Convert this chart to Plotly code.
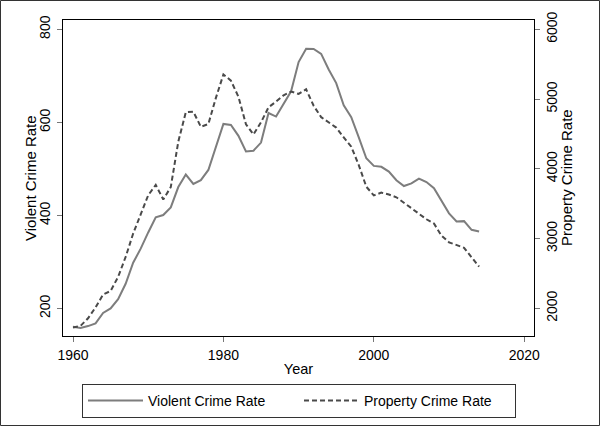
import plotly.graph_objects as go

years = list(range(1960, 2015))
violent_rate = [160.9, 158.1, 162.3, 168.2, 190.6, 200.2, 220.0, 253.2, 298.4, 328.7,
                363.5, 396.0, 401.0, 417.4, 461.1, 487.8, 467.8, 475.9, 497.8, 548.9,
                596.6, 594.3, 571.1, 537.7, 539.2, 556.6, 620.1, 612.5, 640.6, 666.9,
                729.6, 758.2, 757.7, 747.1, 713.6, 684.5, 636.6, 611.0, 567.6, 523.0,
                506.5, 504.5, 494.4, 475.8, 463.2, 469.0, 479.3, 471.8, 458.6, 431.9,
                404.5, 387.1, 387.8, 369.1, 365.5]
property_rate = [1726.3, 1747.9, 1857.5, 2012.1, 2197.5, 2248.8, 2450.9, 2736.5, 3071.8, 3351.3,
                 3621.0, 3768.8, 3560.4, 3737.0, 4389.3, 4810.7, 4819.5, 4601.7, 4642.5, 5016.6,
                 5353.3, 5263.8, 5032.5, 4637.4, 4492.1, 4666.4, 4881.8, 4963.0, 5054.0, 5107.1,
                 5073.1, 5140.2, 4903.7, 4740.0, 4660.2, 4590.5, 4451.0, 4316.3, 4052.5, 3743.6,
                 3618.3, 3658.1, 3630.6, 3591.2, 3514.1, 3431.5, 3346.6, 3276.4, 3214.6, 3041.3,
                 2945.9, 2905.4, 2868.0, 2730.7, 2596.1]

x_ticks = [1960, 1980, 2000, 2020]
left_ticks = [200, 400, 600, 800]
right_ticks = [2000, 3000, 4000, 5000, 6000]

FONT = "Liberation Sans, Arial, Helvetica, sans-serif"

fig = go.Figure()
fig.add_trace(go.Scatter(x=years, y=violent_rate, name="Violent Crime Rate",
                         mode="lines", line=dict(color="#7d7d7d", width=2), yaxis="y"))
fig.add_trace(go.Scatter(x=years, y=property_rate, name="Property Crime Rate",
                         mode="lines", line=dict(color="#4a4a4a", width=2, dash="5px,3px"), yaxis="y2"))

L, R, T, B = 63, 66, 20, 90
W = 600 - L - R
H = 426 - T - B

axis_common = dict(ticks="outside", ticklen=5, tickcolor="#777", tickwidth=1,
                   showgrid=False, zeroline=False, automargin=False,
                   tickfont=dict(size=14, color="black", family=FONT))

fig.update_layout(
    width=600, height=426,
    margin=dict(l=L, r=R, t=T, b=B, autoexpand=False),
    paper_bgcolor="white", plot_bgcolor="white",
    font=dict(family=FONT, size=14, color="black"),
    xaxis=dict(range=[1958.67, 2021.3], tickvals=x_ticks, ticklabelstandoff=1,
               title=dict(text="Year", standoff=2, font=dict(size=14.5)),
               showline=True, linecolor="black", linewidth=1, mirror=True, **axis_common),
    yaxis=dict(range=[141, 820], tickvals=left_ticks, tickangle=-90, ticklabelstandoff=1,
               showline=True, linecolor="black", linewidth=1, mirror=True, **axis_common),
    yaxis2=dict(range=[1603, 6133], tickvals=right_ticks, tickangle=-90, ticklabelstandoff=0,
                overlaying="y", side="right",
                showline=False, **axis_common),
    legend=dict(orientation="h", x=(82 - L) / W, xanchor="left",
                y=-(384 - (T + H)) / H, yanchor="top",
                bordercolor="#333", borderwidth=1, bgcolor="white",
                itemwidth=55, entrywidth=146, font=dict(size=14)),
    showlegend=True,
)

# axis titles
fig.add_annotation(text="Violent Crime Rate", xref="paper", yref="paper",
                   x=(30 - L) / W, y=0.5, xanchor="center", yanchor="middle",
                   textangle=-90, showarrow=False, font=dict(size=15))
fig.add_annotation(text="Property Crime Rate", xref="paper", yref="paper",
                   x=(566 - L) / W, y=0.5, xanchor="center", yanchor="middle",
                   textangle=-90, showarrow=False, font=dict(size=15))

fig.add_shape(type="rect", xref="paper", yref="paper",
              x0=(0.5 - L) / W, x1=(599.5 - L) / W,
              y0=((T + H) - 425.5) / H, y1=((T + H) - 0.5) / H,
              line=dict(color="#333", width=1), layer="below")

fig.write_html("out.html", config={"displayModeBar": False},
               post_script="document.body.style.margin='0';document.body.style.overflow='hidden';")
